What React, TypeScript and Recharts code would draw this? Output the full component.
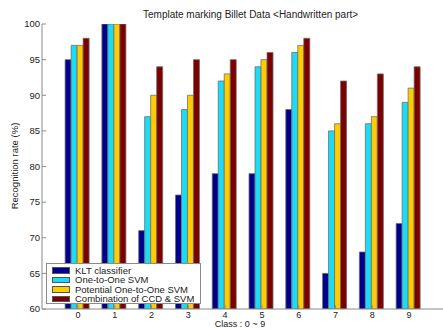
import { BarChart, Bar, XAxis, YAxis } from "recharts";

// recognition rate (%) per class
const classes = ["0", "1", "2", "3", "4", "5", "6", "7", "8", "9"];
const klt = [95, 100, 71, 76, 79, 79, 88, 65, 68, 72];
const oneToOne = [97, 100, 87, 88, 92, 94, 96, 85, 86, 89];
const potential = [97, 100, 90, 90, 93, 95, 97, 86, 87, 91];
const combined = [98, 100, 94, 95, 95, 96, 98, 92, 93, 94];
const yTicks = [60, 65, 70, 75, 80, 85, 90, 95, 100];

const series = [
  { key: "klt", name: "KLT classifier", color: "#00008c" },
  { key: "ovo", name: "One-to-One SVM", color: "#1adcf4" },
  { key: "pot", name: "Potential One-to-One SVM", color: "#ffcc00" },
  { key: "comb", name: "Combination of CCD & SVM", color: "#7c0000" },
];

const data = classes.map((c, i) => ({
  cls: c,
  klt: klt[i],
  ovo: oneToOne[i],
  pot: potential[i],
  comb: combined[i],
}));

const FONT = "'Liberation Sans', Arial, sans-serif";
const AXIS = "#8a8a8a";

const BottomTick = (p: any) => (
  <g>
    <line x1={p.x} x2={p.x} y1={p.y - 2} y2={p.y - 6} stroke={AXIS} />
    <text x={p.x} y={p.y + 1} dy="0.71em" textAnchor="middle" fontSize={9} fill="#222" fontFamily={FONT}>
      {p.payload.value}
    </text>
  </g>
);

const TopTick = (p: any) => (
  <line x1={p.x} x2={p.x} y1={p.y + 2} y2={p.y + 6} stroke={AXIS} />
);

const LeftTick = (p: any) => (
  <g>
    <line x1={p.x + 2} x2={p.x + 6} y1={p.y} y2={p.y} stroke={AXIS} />
    <text x={p.x} y={p.y} dy="0.35em" textAnchor="end" fontSize={9.5} fill="#222" fontFamily={FONT}>
      {p.payload.value}
    </text>
  </g>
);

const RightTick = (p: any) => (
  <line x1={p.x - 2} x2={p.x - 6} y1={p.y} y2={p.y} stroke={AXIS} />
);

export default function App() {
  return (
    <div
      style={{
        position: "fixed",
        left: 0,
        top: 0,
        width: 443,
        height: 329,
        overflow: "hidden",
        background: "#fff",
        fontFamily: FONT,
      }}
    >
      <BarChart
        width={448}
        height={329}
        data={data}
        margin={{ top: 24, right: 2, bottom: 0, left: 0 }}
        barCategoryGap="15%"
        barGap={0}
      >
        <XAxis
          xAxisId="bottom"
          dataKey="cls"
          height={20}
          padding={{ left: 17.6, right: 18.6 }}
          stroke={AXIS}
          tickLine={false}
          tickSize={0}
          tickMargin={2}
          tick={<BottomTick />}
          interval={0}
        />
        <XAxis
          xAxisId="top"
          orientation="top"
          dataKey="cls"
          height={0}
          padding={{ left: 17.6, right: 18.6 }}
          stroke={AXIS}
          tickLine={false}
          tickSize={0}
          tickMargin={2}
          tick={<TopTick />}
          interval={0}
        />
        <YAxis
          yAxisId="left"
          width={42}
          domain={[60, 100]}
          ticks={yTicks}
          allowDataOverflow
          stroke={AXIS}
          tickLine={false}
          tickSize={0}
          tickMargin={2}
          tick={<LeftTick />}
          interval={0}
        />
        <YAxis
          yAxisId="right"
          orientation="right"
          width={0}
          domain={[60, 100]}
          ticks={yTicks}
          allowDataOverflow
          stroke={AXIS}
          tickLine={false}
          tickSize={0}
          tickMargin={2}
          tick={<RightTick />}
          interval={0}
        />
        {series.map((s) => (
          <Bar
            key={s.key}
            xAxisId="bottom"
            yAxisId="left"
            dataKey={s.key}
            name={s.name}
            fill={s.color}
            stroke="#6e6e6e"
            strokeWidth={0.8}
            isAnimationActive={false}
          />
        ))}
      </BarChart>

      {/* title and axis labels */}
      <div
        style={{
          position: "absolute",
          left: 143,
          width: 200,
          top: 9,
          textAlign: "center",
          fontSize: 10,
          lineHeight: "12px",
          color: "#222",
          whiteSpace: "nowrap",
        }}
      >
        Template marking Billet Data &lt;Handwritten part&gt;
      </div>
      <div
        style={{
          position: "absolute",
          left: 190,
          width: 100,
          top: 320,
          textAlign: "center",
          fontSize: 9,
          lineHeight: "9px",
          color: "#222",
        }}
      >
        Class : 0 ~ 9
      </div>
      <div
        style={{
          position: "absolute",
          left: 14,
          top: 166,
          transform: "translate(-50%, -50%) rotate(-90deg)",
          fontSize: 9.5,
          lineHeight: "11px",
          color: "#222",
          whiteSpace: "nowrap",
        }}
      >
        Recognition rate (%)
      </div>

      {/* legend box, lower left as in the figure */}
      <div
        style={{
          position: "absolute",
          left: 46,
          top: 263,
          width: 155,
          height: 41,
          border: `1px solid ${AXIS}`,
          background: "#fff",
          boxSizing: "border-box",
        }}
      >
        {series.map((s, i) => (
          <div
            key={s.key}
            style={{
              position: "absolute",
              left: 0,
              top: 1.5 + i * 9.55,
              height: 9.5,
              display: "flex",
              alignItems: "center",
              fontSize: 9.5,
              color: "#222",
            }}
          >
            <span
              style={{
                display: "inline-block",
                width: 18,
                height: 6.5,
                marginLeft: 5,
                marginRight: 5,
                background: s.color,
                border: "1px solid #555",
                boxSizing: "border-box",
              }}
            />
            <span style={{ whiteSpace: "nowrap", lineHeight: "9.5px" }}>{s.name}</span>
          </div>
        ))}
      </div>
    </div>
  );
}
